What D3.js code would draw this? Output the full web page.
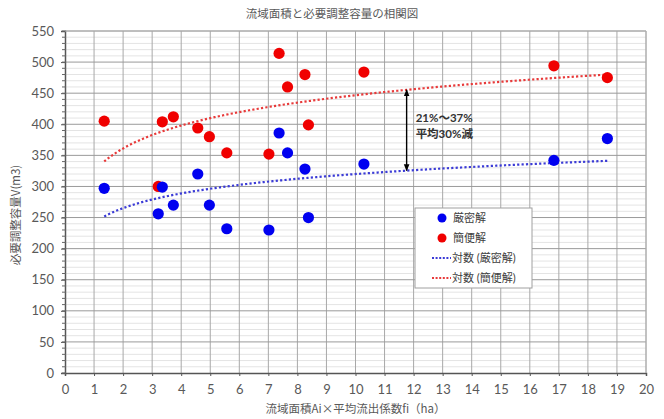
<!DOCTYPE html>
<html>
<head>
<meta charset="utf-8">
<script src="https://cdn.jsdelivr.net/npm/d3@7"></script>
<style>
  body { margin: 0; background: #fff; }
  svg text { font-family: Lato, "Noto Sans CJK JP", sans-serif; }
  svg text.jp { font-family: "Noto Sans CJK JP", sans-serif; }
</style>
</head>
<body>
<div id="chart"></div>
<script>
// data
const areaHa = [1.35, 3.21, 3.35, 3.73, 4.57, 4.97, 5.57, 7.02, 7.37, 7.66, 8.26, 8.38, 10.29, 16.83, 18.67];
const strictVol = [297, 256, 299, 270, 320, 270, 232, 230, 386, 354, 328, 250, 336, 342, 377];
const simpleVol = [405, 300, 404, 412, 394, 380, 354, 352, 514, 460, 480, 399, 484, 494, 475];
const xTicks = d3.range(0, 21, 1);
const yTicks = d3.range(0, 551, 50);
const seriesNames = ["厳密解", "簡便解", "対数 (厳密解)", "対数 (簡便解)"];
const arrowAt = 11.76;
const noteLines = ["21%～37%", "平均30%減"];

const W = 664, H = 419;
const margin = { top: 31, right: 18, bottom: 46, left: 65 };
const width = W - margin.left - margin.right;
const height = H - margin.top - margin.bottom;

const svg = d3.select("#chart").append("svg")
    .attr("width", W).attr("height", H);

const x = d3.scaleLinear().domain([0, 20]).range([margin.left, margin.left + width]);
const y = d3.scaleLinear().domain([0, 550]).range([margin.top + height, margin.top]);

// log fit like Excel's trendline: y = a + b ln(x)
function logFit(xs, ys) {
    const lx = xs.map(Math.log);
    const mx = d3.mean(lx), my = d3.mean(ys);
    const b = d3.sum(lx, (l, i) => (l - mx) * (ys[i] - my)) / d3.sum(lx, l => (l - mx) * (l - mx));
    const a = my - b * mx;
    return v => a + b * Math.log(v);
}
const fitStrict = logFit(areaHa, strictVol);
const fitSimple = logFit(areaHa, simpleVol);

// minor horizontal grid
svg.append("g").selectAll("line")
    .data(d3.range(0, 551, 10).filter(v => v % 50 !== 0))
    .join("line")
    .attr("x1", x(0)).attr("x2", x(20))
    .attr("y1", d => y(d)).attr("y2", d => y(d))
    .attr("stroke", "#e4e4e4").attr("stroke-width", 1);

// vertical grid
svg.append("g").selectAll("line")
    .data(xTicks.slice(1))
    .join("line")
    .attr("x1", d => x(d)).attr("x2", d => x(d))
    .attr("y1", y(0)).attr("y2", y(550))
    .attr("stroke", "#a8a8a8").attr("stroke-width", 1);

// major horizontal grid
svg.append("g").selectAll("line")
    .data(yTicks.slice(1))
    .join("line")
    .attr("x1", x(0)).attr("x2", x(20))
    .attr("y1", d => y(d)).attr("y2", d => y(d))
    .attr("stroke", "#9a9a9a").attr("stroke-width", 1);

// axes
const xAxis = svg.append("g")
    .attr("transform", `translate(0,${y(0)})`)
    .call(d3.axisBottom(x).tickValues(xTicks).tickSize(3).tickPadding(9));
const yAxis = svg.append("g")
    .attr("transform", `translate(${x(0)},0)`)
    .call(d3.axisLeft(y).tickValues(yTicks).tickSize(4).tickPadding(7));
// minor y ticks
svg.append("g").selectAll("line")
    .data(d3.range(0, 551, 10))
    .join("line")
    .attr("x1", x(0) - 3).attr("x2", x(0) + 1)
    .attr("y1", d => y(d)).attr("y2", d => y(d))
    .attr("stroke", "#666");

[xAxis, yAxis].forEach(g => {
    g.select(".domain").attr("stroke", "#555").attr("stroke-width", 1.5);
    g.selectAll(".tick line").attr("stroke", "#555");
    g.selectAll(".tick text").attr("fill", "#595959").attr("font-size", 13);
});

// trend lines
const trend = d3.line().x(d => x(d[0])).y(d => y(d[1]));
const xMin = d3.min(areaHa), xMax = d3.max(areaHa);
const trendXs = d3.range(xMin, xMax, 0.1).concat([xMax]);
svg.append("path")
    .datum(trendXs.map(v => [v, fitStrict(v)]))
    .attr("d", trend).attr("fill", "none")
    .attr("stroke", "#3b3bd6").attr("stroke-width", 2.2)
    .attr("stroke-dasharray", "2.2,2.2");
svg.append("path")
    .datum(trendXs.map(v => [v, fitSimple(v)]))
    .attr("d", trend).attr("fill", "none")
    .attr("stroke", "#e83a3a").attr("stroke-width", 2.2)
    .attr("stroke-dasharray", "2.2,2.2");

// points
svg.append("g").selectAll("circle")
    .data(areaHa.map((v, i) => [v, simpleVol[i]]))
    .join("circle")
    .attr("cx", d => x(d[0])).attr("cy", d => y(d[1]))
    .attr("r", 5.6).attr("fill", "#f00000");
svg.append("g").selectAll("circle")
    .data(areaHa.map((v, i) => [v, strictVol[i]]))
    .join("circle")
    .attr("cx", d => x(d[0])).attr("cy", d => y(d[1]))
    .attr("r", 5.6).attr("fill", "#0000f0");

// plot border top/right
svg.append("path")
    .attr("d", `M${x(0)},${y(550)}H${x(20)}V${y(0)}`)
    .attr("fill", "none").attr("stroke", "#b0b0b0");

// annotation arrow between the two fits
const defs = svg.append("defs");
["start", "end"].forEach(k => {
    defs.append("marker")
        .attr("id", "arr-" + k)
        .attr("viewBox", "0 0 10 10").attr("refX", 9).attr("refY", 5)
        .attr("markerWidth", 5).attr("markerHeight", 5)
        .attr("orient", k === "start" ? "auto-start-reverse" : "auto")
        .append("path").attr("d", "M0,1L10,5L0,9Z").attr("fill", "#000");
});
svg.append("line")
    .attr("x1", x(arrowAt)).attr("x2", x(arrowAt))
    .attr("y1", y(fitSimple(arrowAt))).attr("y2", y(fitStrict(arrowAt)))
    .attr("stroke", "#000").attr("stroke-width", 1.4)
    .attr("marker-start", "url(#arr-start)").attr("marker-end", "url(#arr-end)");
svg.append("g").selectAll("text")
    .data(noteLines)
    .join("text")
    .attr("x", x(arrowAt) + 9)
    .attr("y", (d, i) => 122 + i * 16)
    .attr("font-size", 11.5).attr("font-weight", "bold").attr("fill", "#333")
    .text(d => d);

// legend
const lg = svg.append("g").attr("transform", "translate(415,208)");
lg.append("rect").attr("width", 117).attr("height", 80)
    .attr("fill", "#fff").attr("stroke", "#a0a0a0");
const legendItems = [
    { name: seriesNames[0], type: "dot", color: "#0000f0" },
    { name: seriesNames[1], type: "dot", color: "#f00000" },
    { name: seriesNames[2], type: "line", color: "#3b3bd6" },
    { name: seriesNames[3], type: "line", color: "#e83a3a" }
];
legendItems.forEach((d, i) => {
    const cy = 10 + i * 20;
    if (d.type === "dot") {
        lg.append("circle").attr("cx", 27).attr("cy", cy).attr("r", 4.5).attr("fill", d.color);
        lg.append("text").attr("x", 38).attr("y", cy + 4)
            .attr("font-size", 11).attr("fill", "#404040").text(d.name);
    } else {
        lg.append("line").attr("x1", 17).attr("x2", 36).attr("y1", cy).attr("y2", cy)
            .attr("stroke", d.color).attr("stroke-width", 2).attr("stroke-dasharray", "2,1.6");
        lg.append("text").attr("x", 37).attr("y", cy + 4)
            .attr("font-size", 11).attr("fill", "#404040").text(d.name);
    }
});

// titles
svg.append("text").attr("class", "jp").attr("x", 332).attr("y", 18).attr("text-anchor", "middle")
    .attr("font-size", 11.5).attr("fill", "#595959")
    .text("流域面積と必要調整容量の相関図");
svg.append("text").attr("class", "jp").attr("x", x(10)).attr("y", 413).attr("text-anchor", "middle")
    .attr("font-size", 11.5).attr("fill", "#595959")
    .text("流域面積Ai×平均流出係数fi（ha）");
svg.append("text").attr("class", "jp")
    .attr("transform", `translate(20,${215}) rotate(-90)`)
    .attr("text-anchor", "middle")
    .attr("font-size", 11.5).attr("fill", "#595959")
    .text("必要調整容量V(m3)");
</script>
</body>
</html>
